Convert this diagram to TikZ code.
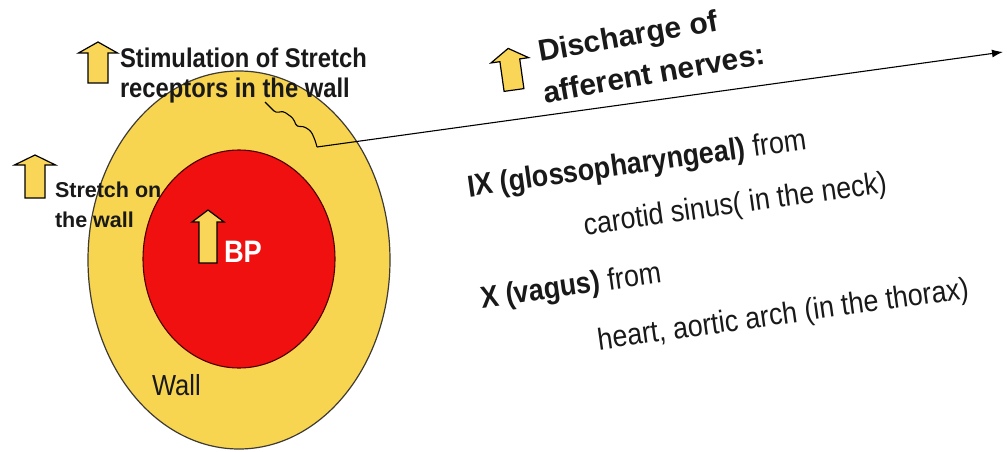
\documentclass[tikz,border=0pt]{standalone}
\usepackage{fontspec}
\setmainfont{Liberation Sans}
\newfontfamily\narrowsans[FakeStretch=0.88]{Liberation Sans}
\usetikzlibrary{arrows.meta,shapes.geometric}
\definecolor{wallyellow}{RGB}{248,213,80}
\definecolor{bpred}{RGB}{240,16,16}
\definecolor{arrowyellow}{RGB}{250,214,88}
\definecolor{inkc}{RGB}{25,25,25}
\tikzset{
  blockarrow/.style={fill=arrowyellow, draw=black, line width=1.2pt, line join=miter},
  lab/.style={anchor=base west, inner sep=0pt, outer sep=0pt, text=inkc},
  wallshape/.style={ellipse, fill=wallyellow, draw=black!75!yellow!50!black, line width=1.2pt, inner sep=0pt},
  bpshape/.style={ellipse, fill=bpred, draw=black!70!red, line width=1.1pt, inner sep=0pt},
  nerve/.style={draw=black, line width=1.1pt, line join=round},
}
% bottom-centre x, y, shaft half width, head half width, height, head height, angle
\newcommand{\upblock}[7]{%
  \draw[blockarrow, rotate around={#7:(#1,#2)}]
    (#1-#3,#2) -- (#1+#3,#2) -- (#1+#3,#2-#5+#6) -- (#1+#4,#2-#5+#6)
    -- (#1,#2-#5) -- (#1-#4,#2-#5+#6) -- (#1-#3,#2-#5+#6) -- cycle;}
\begin{document}
\begin{tikzpicture}[x=1pt,y=-1pt]
\useasboundingbox (0,0) rectangle (1007,452);
\fill[white] (0,0) rectangle (1007,452);

% vessel wall and lumen
\node[wallshape, minimum width=302pt, minimum height=378pt] (wall) at (239,260) {};
\node[bpshape, minimum width=192pt, minimum height=218pt] (lumen) at (239,259) {};

% block arrows
\upblock{98}{83}{10}{19.5}{41}{11}{0}
\upblock{35}{198}{10}{20.5}{43}{10}{0}
\upblock{208}{263}{9}{16}{53}{12}{0}
\upblock{514}{90}{10}{19}{42}{12}{8}

% left texts
\node[lab, font=\narrowsans\bfseries\fontsize{27}{30}\selectfont] (stim1) at (120,67) {Stimulation of Stretch};
\node[lab, font=\narrowsans\bfseries\fontsize{27}{30}\selectfont] (stim2) at (120,98) {receptors in the wall};
\node[lab, font=\bfseries\fontsize{21.5}{24}\selectfont] (str1) at (55,197) {Stretch on};
\node[lab, font=\bfseries\fontsize{21.5}{24}\selectfont] (str2) at (55,227) {the wall};
\node[lab, text=white, font=\narrowsans\bfseries\fontsize{31}{34}\selectfont] (bp) at (224,262) {BP};
\node[lab, font=\narrowsans\fontsize{29}{32}\selectfont] (walllab) at (152,395) {Wall};

% nerve: squiggle and line to the right
\coordinate (sq) at (265,102);
\coordinate (kink) at (317,147);
\coordinate (tip) at (1003,52);
\draw[nerve, rounded corners=3pt] (sq) -- (276,113) -- (283,111) -- (293,118) -- (297,127) -- (303,126) -- (311,131) -- (315,140) -- (kink);
\draw[nerve, -{Latex[length=11pt,width=8pt]}] (kink) -- (tip);

% right texts
\node[lab, rotate=10, font=\bfseries\fontsize{30}{33}\selectfont] (dis1) at (540,62) {Discharge of};
\node[lab, rotate=10, font=\bfseries\fontsize{30}{33}\selectfont] (dis2) at (545,103) {afferent nerves:};
\node[lab, rotate=8, font=\narrowsans\fontsize{30.5}{33}\selectfont] (ix) at (469,197) {\textbf{IX (glossopharyngeal)} from};
\node[lab, rotate=8, font=\narrowsans\fontsize{30.5}{33}\selectfont] (car) at (585,235) {carotid sinus( in the neck)};
\node[lab, rotate=8, font=\narrowsans\fontsize{30.5}{33}\selectfont] (vx) at (482,308) {\textbf{X (vagus)} from};
\node[lab, rotate=8, font=\narrowsans\fontsize{30.5}{33}\selectfont] (hrt) at (599,350) {heart, aortic arch (in the thorax)};
\end{tikzpicture}
\end{document}
